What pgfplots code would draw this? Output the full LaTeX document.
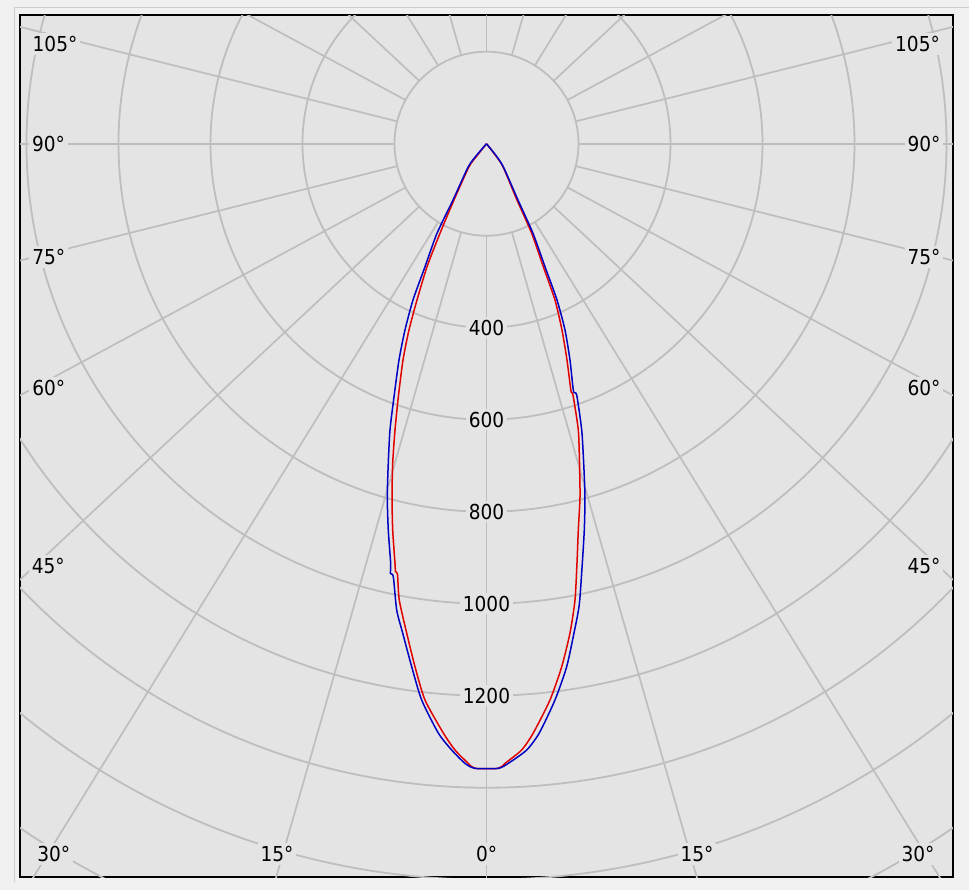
\documentclass[border=0pt]{standalone}
\usepackage{fontspec}
\setmainfont{DejaVu Sans Condensed}
\usepackage{pgfplots}
\pgfplotsset{compat=1.18}
\definecolor{bgout}{RGB}{240,240,240}
\definecolor{bgin}{RGB}{228,228,228}
\definecolor{gridc}{RGB}{190,190,190}
\definecolor{frameout}{RGB}{205,205,205}
\definecolor{cblue}{RGB}{0,0,195}
\definecolor{cred}{RGB}{225,0,0}
\begin{document}
\begin{tikzpicture}
\fill[bgout] (0,0) rectangle (484.5pt,-445pt);
\draw[frameout, line width=0.5pt] (7pt,-441pt) -- (7pt,-3.5pt) -- (484.5pt,-3.5pt);
\begin{axis}[anchor=south west, at={(10pt,-438.5pt)},
  x=0.23pt, y=0.23pt,
  xmin=-1014.1, xmax=1014.1, ymin=-1594.1, ymax=279.8,
  axis lines=box, ticks=none,
  axis line style={black, line width=1pt},
  axis background/.style={fill=bgin},
  clip=true]
\pgfplotsinvokeforeach{200,400,...,2200}{
  \draw[gridc, line width=0.9pt] (axis cs:0,0) circle[radius=#1];
}
\pgfplotsinvokeforeach{0,15,...,345}{
  \draw[gridc, line width=0.85pt]
   (axis cs:{200*1.07*sin(#1)/sqrt((1.07*sin(#1))^2+(cos(#1))^2)},{-200*cos(#1)/sqrt((1.07*sin(#1))^2+(cos(#1))^2)})
   -- (axis cs:{4000*1.07*sin(#1)},{-4000*cos(#1)});
}
\addplot[cred, line width=0.75pt, smooth, tension=0.4] coordinates {
(0,0) (-19,-24) (-38,-50) (-70.7,-122.4) (-101.1,-194.8) (-129.3,-267.4) (-151.1,-339.8)
(-168.5,-405) (-181.5,-470.2) (-191.7,-550.7) (-198.9,-622.4) (-203.9,-694.8)
(-205.4,-767.4) (-203.9,-839.8) (-198.9,-912.2) (-197.8,-930) (-193.5,-936)
(-189.6,-992) (-173.5,-1063.7) (-155.4,-1137) (-133.7,-1209.3) (-93.9,-1281)
(-68.5,-1318) (-39.6,-1347) (-25,-1357.8) (25.7,-1357.8) (40.2,-1347)
(76.5,-1318) (101.7,-1281) (138,-1209.3) (163.5,-1137) (181.5,-1063.7)
(192.4,-992) (196.7,-912.2) (199.6,-839.8) (203.3,-767.4) (202.2,-694.8)
(199.6,-622.4) (188,-546.3) (183.7,-537.6) (175,-470.2) (164.1,-405)
(148.9,-339.8) (123.5,-267.4) (98.3,-194.8) (66.3,-122.4) (35.9,-50) (18.5,-24) (0,0)
};
\addplot[cblue, line width=0.75pt, smooth, tension=0.4] coordinates {
(0,0) (-20.5,-24) (-39.6,-50) (-72.8,-122.4) (-107.6,-194.8) (-133.7,-267.4) (-159.8,-339.8)
(-177.2,-405) (-190.2,-470.2) (-201.1,-550.7) (-209.8,-622.4) (-213.5,-694.8)
(-215.7,-767.4) (-213.5,-839.8) (-208.3,-912.2) (-208.7,-934.3) (-202.6,-940.9)
(-195.2,-1013.7) (-182.2,-1063.7) (-162.6,-1137) (-140.9,-1209.3) (-104.8,-1281)
(-75.7,-1318) (-46.7,-1347) (-25,-1357.8) (25.7,-1357.8) (47.4,-1347)
(87.4,-1318) (114.8,-1281) (148.9,-1209.3) (174.3,-1137) (190.2,-1063.7)
(201.7,-1002) (208.3,-912.2) (212.6,-839.8) (214.1,-767.4) (211.3,-694.8)
(207,-622.4) (196.1,-546.3) (189.1,-537.6) (181.5,-470.2) (170.7,-405)
(153.3,-339.8) (127.2,-267.4) (101.1,-194.8) (68.5,-122.4) (36.5,-50) (19.5,-24) (0,0)
};
\end{axis}
\tikzset{lab/.style={fill=bgin, inner sep=1.5pt, anchor=base, font=\fontsize{10.3}{12}\selectfont}}
\node[lab] at (27.5pt,-25.85pt) {105°};
\node[lab] at (24.25pt,-75.75pt) {90°};
\node[lab] at (24.35pt,-132.1pt) {75°};
\node[lab] at (24.35pt,-197.5pt) {60°};
\node[lab] at (24.15pt,-286.6pt) {45°};
\node[lab] at (26.85pt,-430.85pt) {30°};
\node[lab] at (138.5pt,-430.85pt) {15°};
\node[lab] at (243.35pt,-430.85pt) {0°};
\node[lab] at (348.5pt,-430.85pt) {15°};
\node[lab] at (459pt,-430.85pt) {30°};
\node[lab] at (462pt,-286.6pt) {45°};
\node[lab] at (462pt,-197.5pt) {60°};
\node[lab] at (462pt,-132.1pt) {75°};
\node[lab] at (462pt,-75.75pt) {90°};
\node[lab] at (458.75pt,-25.85pt) {105°};
\node[lab] at (243.25pt,-167.5pt) {400};
\node[lab] at (243.25pt,-213.5pt) {600};
\node[lab] at (243.25pt,-259.5pt) {800};
\node[lab] at (243.25pt,-305.5pt) {1000};
\node[lab] at (243.25pt,-351.5pt) {1200};
\pgfresetboundingbox
\path[use as bounding box] (0,0) rectangle (484.5pt,-445pt);
\end{tikzpicture}
\end{document}
